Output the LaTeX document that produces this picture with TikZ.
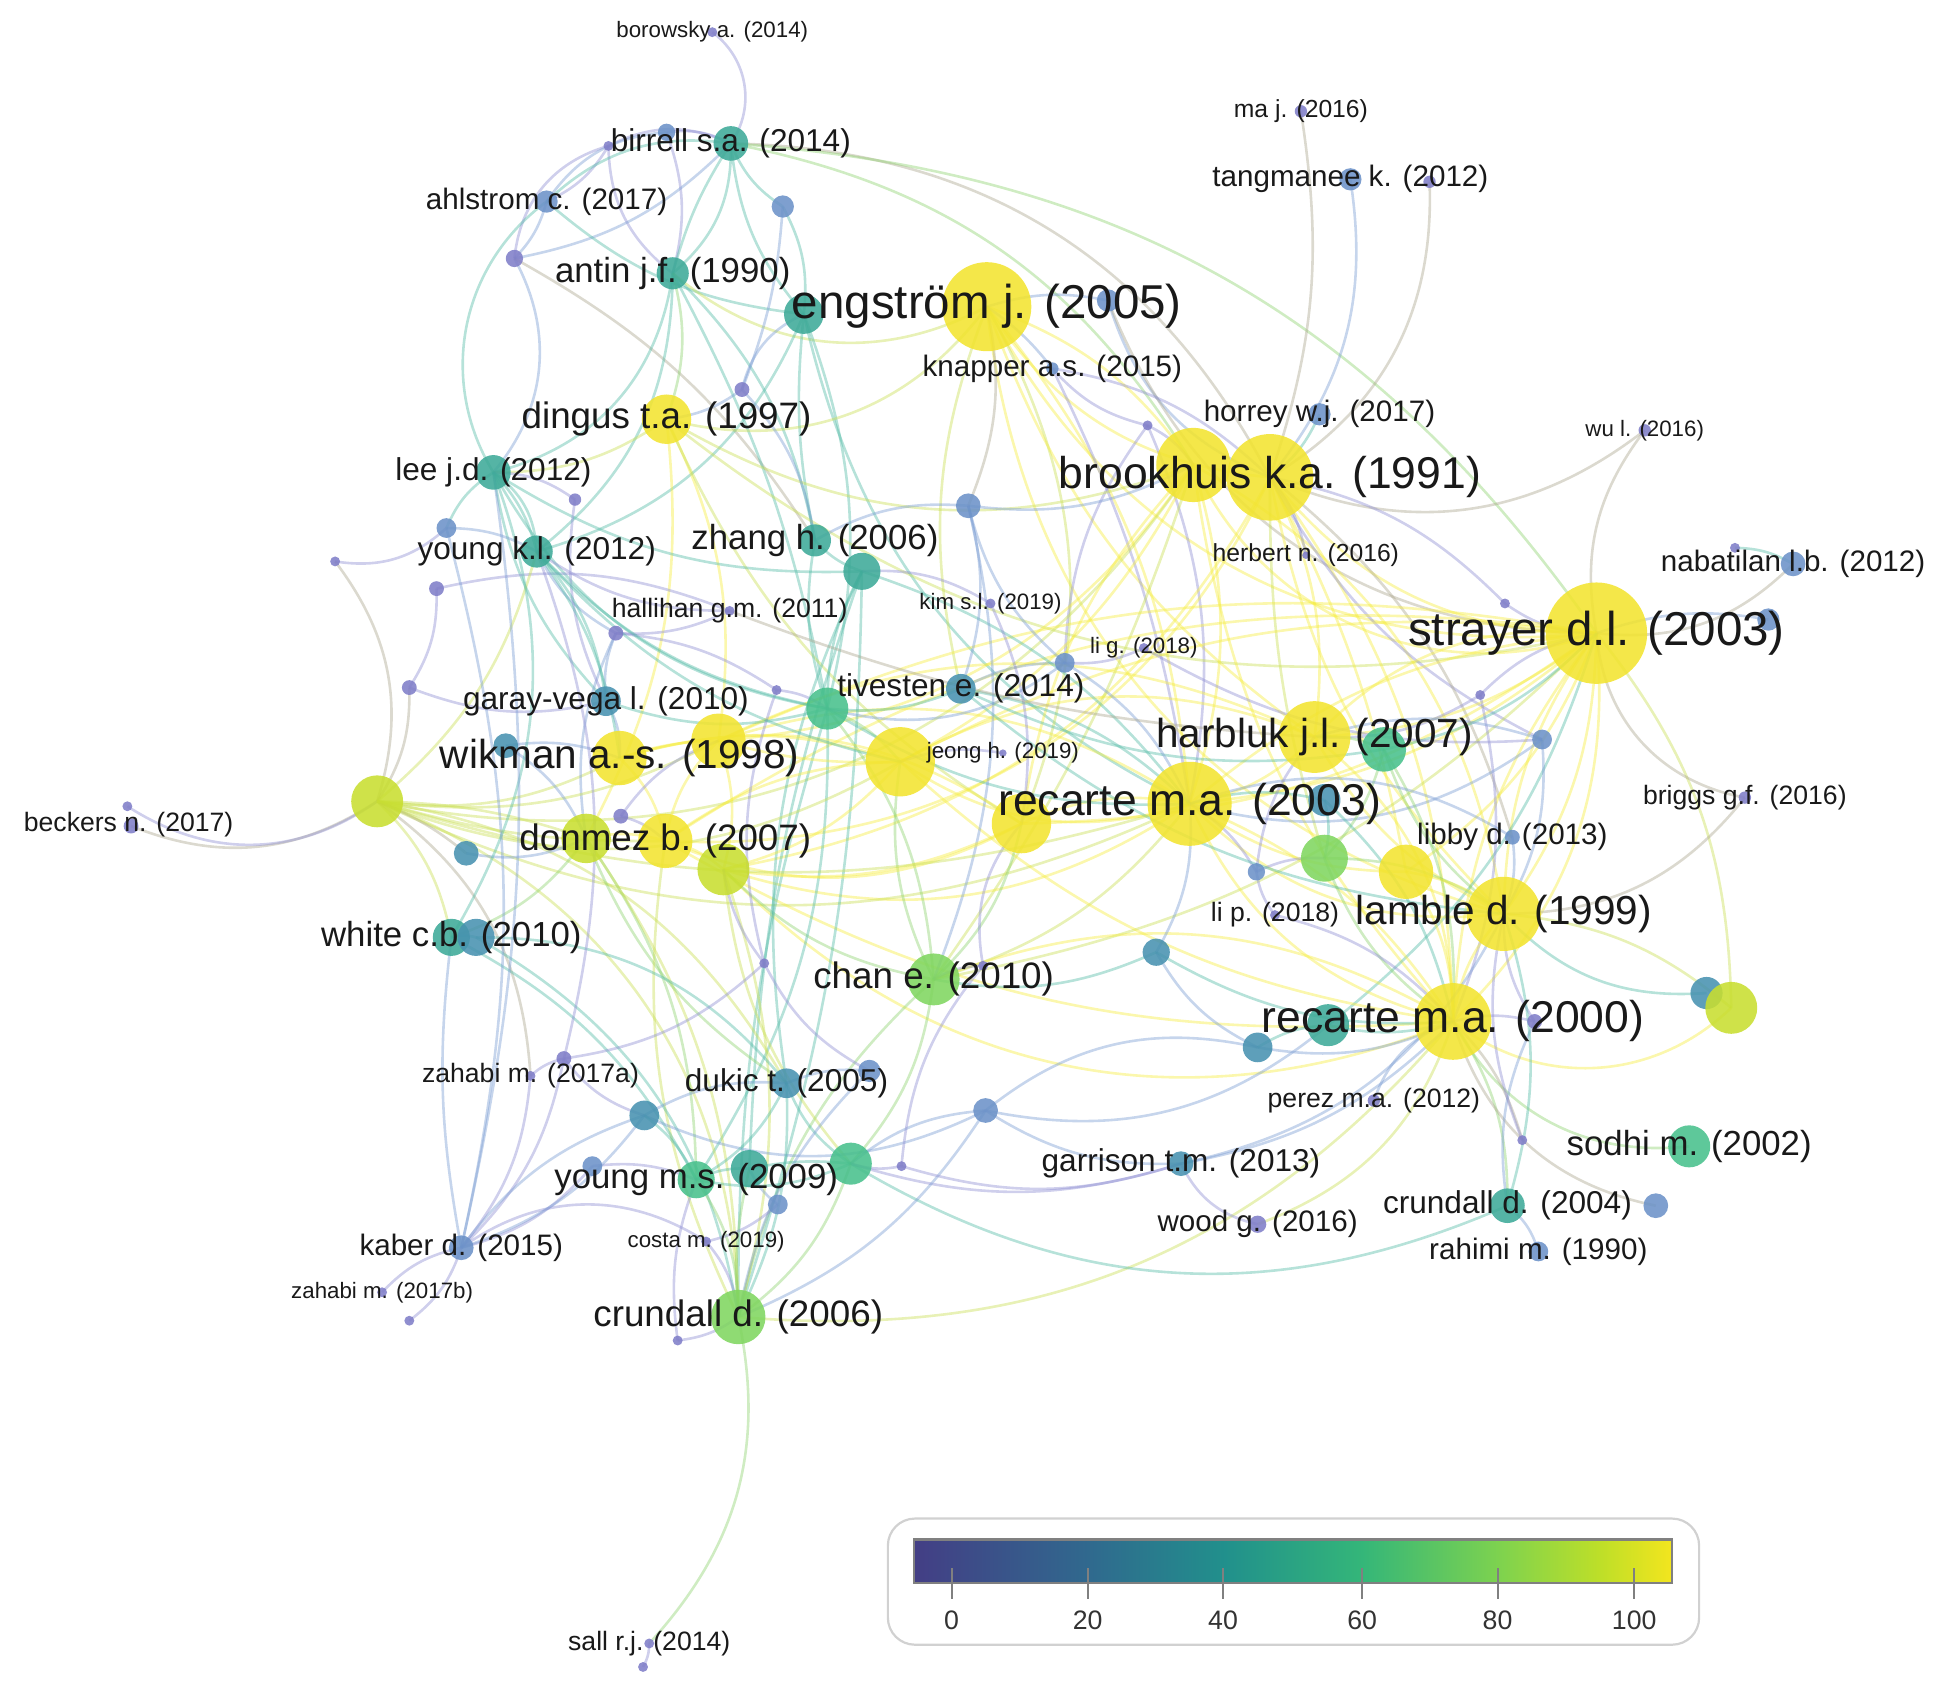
\documentclass[tikz,border=0pt]{standalone}
\usepackage{fontspec}
\setmainfont{Liberation Sans}
\pgfdeclarelayer{edges}
\pgfsetlayers{edges,main}
\definecolor{c0}{RGB}{128,126,200}
\definecolor{c1}{RGB}{108,146,200}
\definecolor{c2}{RGB}{72,146,176}
\definecolor{c3}{RGB}{62,170,152}
\definecolor{c4}{RGB}{72,192,140}
\definecolor{c5}{RGB}{128,214,96}
\definecolor{c6}{RGB}{200,222,48}
\definecolor{c7}{RGB}{242,228,48}
\definecolor{ey}{RGB}{245,236,60}
\definecolor{eyg}{RGB}{200,222,80}
\definecolor{eg}{RGB}{140,210,110}
\definecolor{et}{RGB}{80,185,165}
\definecolor{eb}{RGB}{120,155,210}
\definecolor{ep}{RGB}{140,140,210}
\definecolor{egr}{RGB}{170,165,140}
\definecolor{txt}{RGB}{25,25,25}
\newcommand\szA{\fontsize{47.5pt}{50pt}\selectfont}
\newcommand\szB{\fontsize{44.5pt}{46pt}\selectfont}
\newcommand\szC{\fontsize{40.5pt}{42pt}\selectfont}
\newcommand\szD{\fontsize{36.8pt}{38pt}\selectfont}
\newcommand\szE{\fontsize{34.8pt}{36pt}\selectfont}
\newcommand\szF{\fontsize{31.6pt}{33pt}\selectfont}
\newcommand\szG{\fontsize{29.6pt}{31pt}\selectfont}
\newcommand\szH{\fontsize{26.6pt}{28pt}\selectfont}
\newcommand\szI{\fontsize{24.7pt}{26pt}\selectfont}
\newcommand\szJ{\fontsize{22.3pt}{24pt}\selectfont}
\newcommand\szT{\fontsize{26.7pt}{28pt}\selectfont}
\tikzset{
  nd/.style={circle,inner sep=0pt,draw=none,fill opacity=0.88},
  lab/.style={inner sep=0pt,text=txt,anchor=center},
  ed/.style={line width=2.6pt,draw opacity=0.42},
}
\newcommand\N[5]{\node[nd,minimum size=#4*2.4732pt,fill=#5] (#1) at (#2,#3) {};}
\newcommand\E[4]{\pgfmathsetmacro\bb{ifthenelse(#3==0,14,max(-48,min(48,1.7*#3)))}%
  \draw[ed,draw=#4] (#1.center) to[bend left=\bb] (#2.center);}
\begin{document}
\begin{tikzpicture}[x=1.2366pt,y=-1.2366pt]
\useasboundingbox (0,0) rectangle (1568,1370);
% ---------------- nodes
\N{bor}{576}{26}{4}{c0}
\N{bir}{591}{116}{14}{c3}
\N{birA}{539}{107}{7}{c1}
\N{birB}{492}{118}{4}{c0}
\N{ahl}{442}{163}{9}{c1}
\N{nA}{633}{167}{9}{c1}
\N{nB}{416}{209}{7}{c0}
\N{ant}{544}{221}{13}{c3}
\N{engT}{650}{254}{16}{c3}
\N{eng}{798}{248}{36}{c7}
\N{nEng}{896}{243}{9}{c1}
\N{nC}{600}{315}{6}{c0}
\N{kna}{851}{298}{5}{c1}
\N{din}{539}{339}{20}{c7}
\N{nD}{928}{344}{4}{c0}
\N{hor}{1067}{335}{9}{c1}
\N{brkA}{965}{376}{30}{c7}
\N{brk}{1027}{386}{35}{c7}
\N{lee}{399}{382}{14}{c3}
\N{nE}{465}{404}{5}{c0}
\N{nF}{783}{409}{10}{c1}
\N{nG}{361}{427}{8}{c1}
\N{ykl}{434}{446}{13}{c3}
\N{zha}{659}{437}{13}{c3}
\N{nH}{697}{462}{15}{c3}
\N{nI}{271}{454}{4}{c0}
\N{nJ}{353}{476}{6}{c0}
\N{nK}{498}{512}{6}{c0}
\N{hal}{590}{494}{4}{c0}
\N{kim}{801}{488}{4}{c0}
\N{lig}{925}{524}{4}{c0}
\N{nL}{861}{536}{8}{c1}
\N{her}{1056}{449}{3}{c0}
\N{wul}{1330}{348}{5}{c0}
\N{maj}{1052}{90}{5}{c0}
\N{tan}{1092}{145}{9}{c1}
\N{nM}{1156}{147}{5}{c0}
\N{nab}{1450}{456}{10}{c1}
\N{nN}{1403}{443}{4}{c0}
\N{nO}{1430}{501}{9}{c1}
\N{str}{1291}{512}{41}{c7}
\N{nP}{1217}{488}{4}{c0}
\N{nQ}{1197}{562}{4}{c0}
\N{nR}{1247}{598}{8}{c1}
\N{har}{1063}{596}{29}{c7}
\N{harG}{1119}{606}{18}{c4}
\N{rec3}{962}{650}{34}{c7}
\N{rec3B}{826}{666}{24}{c7}
\N{rec3T}{1071}{647}{13}{c2}
\N{nS}{1071}{694}{19}{c5}
\N{nT}{1137}{705}{22}{c7}
\N{lib}{1223}{677}{6}{c1}
\N{bri}{1411}{645}{5}{c0}
\N{lam}{1216}{739}{30}{c7}
\N{nU}{1016}{705}{7}{c1}
\N{lip}{1031}{740}{4}{c0}
\N{nV}{935}{770}{11}{c2}
\N{nW}{1380}{803}{13}{c2}
\N{nX}{1400}{815}{21}{c6}
\N{rec0}{1175}{826}{31}{c7}
\N{rec0T}{1074}{829}{17}{c3}
\N{rec0P}{1241}{826}{6}{c0}
\N{nY}{1017}{847}{12}{c2}
\N{per}{1111}{890}{5}{c0}
\N{sod}{1366}{927}{17}{c4}
\N{nZ}{1231}{922}{4}{c0}
\N{cr4}{1219}{975}{14}{c3}
\N{nAA}{1339}{975}{10}{c1}
\N{rah}{1244}{1012}{8}{c1}
\N{woo}{1017}{990}{7}{c0}
\N{gar}{955}{941}{10}{c2}
\N{cha}{755}{792}{21}{c5}
\N{nAB}{795}{781}{4}{c0}
\N{nAC}{618}{779}{4}{c0}
\N{tiv}{777}{557}{12}{c2}
\N{tivG}{669}{573}{17}{c4}
\N{jeo}{811}{609}{3}{c0}
\N{jeoY}{728}{616}{28}{c7}
\N{gvl}{490}{567}{12}{c2}
\N{nAD}{628}{558}{4}{c0}
\N{wikA}{501}{613}{22}{c7}
\N{wikB}{581}{599}{22}{c7}
\N{nAE}{409}{603}{10}{c2}
\N{big}{305}{648}{21}{c6}
\N{bec}{106}{668}{6}{c0}
\N{becB}{103}{652}{4}{c0}
\N{donA}{474}{678}{20}{c6}
\N{don}{538}{680}{22}{c7}
\N{donB}{585}{703}{21}{c6}
\N{nAF}{502}{660}{6}{c0}
\N{nAG}{377}{690}{10}{c2}
\N{nAH}{331}{556}{6}{c0}
\N{whi}{365}{758}{15}{c3}
\N{whiB}{385}{758}{15}{c2}
\N{zaa}{429}{870}{4}{c0}
\N{nAI}{456}{856}{6}{c0}
\N{duk}{636}{876}{12}{c2}
\N{nAJ}{703}{866}{9}{c1}
\N{nAK}{521}{902}{12}{c2}
\N{nAL}{797}{898}{10}{c1}
\N{yms}{563}{954}{15}{c4}
\N{ymsB}{606}{945}{15}{c3}
\N{ymsC}{688}{941}{17}{c4}
\N{nAM}{479}{943}{8}{c1}
\N{nAN}{629}{974}{8}{c1}
\N{nAO}{729}{943}{4}{c0}
\N{cos}{571}{1004}{4}{c0}
\N{kab}{373}{1009}{10}{c1}
\N{zab}{309}{1045}{4}{c0}
\N{zabB}{331}{1068}{4}{c0}
\N{cr6}{597}{1065}{22}{c5}
\N{nAP}{548}{1084}{4}{c0}
\N{sal}{525}{1329}{4}{c0}
\N{salB}{520}{1348}{4}{c0}
% ---------------- edges
\begin{pgfonlayer}{edges}
\E{bor}{bir}{26}{ep}
\E{birB}{ahl}{10}{ep}
\E{birB}{bir}{15}{ep}
\E{birB}{nB}{-20}{ep}
\E{birB}{ant}{-15}{ep}
\E{birA}{ant}{10}{ep}
\E{birA}{bir}{10}{ep}
\E{birA}{ahl}{-15}{eb}
\E{bir}{ahl}{-15}{et}
\E{bir}{ant}{-5}{et}
\E{bir}{ant}{15}{et}
\E{bir}{nA}{-10}{et}
\E{bir}{engT}{-10}{et}
\E{bir}{brk}{18}{egr}
\E{bir}{str}{15}{eg}
\E{bir}{brkA}{14}{eg}
\E{bir}{nB}{10}{eb}
\E{ahl}{lee}{-25}{et}
\E{ahl}{nB}{0}{eb}
\E{ahl}{engT}{-10}{et}
\E{nB}{lee}{20}{eb}
\E{nB}{zha}{0}{egr}
\E{ant}{din}{10}{eg}
\E{ant}{zha}{10}{et}
\E{ant}{tivG}{5}{et}
\E{ant}{lee}{20}{et}
\E{ant}{ykl}{15}{et}
\E{ant}{eng}{-20}{eyg}
\E{nA}{engT}{10}{et}
\E{nA}{nC}{5}{eb}
\E{engT}{nC}{-15}{eb}
\E{engT}{zha}{-5}{et}
\E{engT}{tivG}{10}{et}
\E{engT}{ykl}{15}{et}
\E{engT}{rec3}{-15}{et}
\E{eng}{brk}{-15}{ey}
\E{eng}{brkA}{10}{ey}
\E{eng}{str}{-20}{ey}
\E{eng}{rec3}{10}{ey}
\E{eng}{lam}{-20}{ey}
\E{eng}{kna}{5}{eb}
\E{eng}{rec3B}{15}{eyg}
\E{eng}{tiv}{-10}{eyg}
\E{eng}{nF}{10}{egr}
\E{eng}{har}{-10}{ey}
\E{eng}{din}{20}{eyg}
\E{eng}{nEng}{0}{eb}
\E{nEng}{brk}{-15}{eb}
\E{nEng}{str}{-20}{egr}
\E{kna}{brk}{10}{ep}
\E{kna}{rec3}{5}{ep}
\E{kna}{nD}{-10}{ep}
\E{nD}{brkA}{0}{ep}
\E{nD}{rec3}{10}{ep}
\E{nD}{nL}{-10}{ep}
\E{din}{brkA}{-15}{eyg}
\E{din}{wikB}{10}{ey}
\E{din}{donA}{10}{ey}
\E{din}{rec3B}{-10}{eyg}
\E{din}{lee}{10}{eyg}
\E{din}{str}{-15}{eyg}
\E{nC}{zha}{10}{eb}
\E{nC}{din}{0}{eb}
\E{hor}{brk}{0}{et}
\E{maj}{brk}{8}{egr}
\E{tan}{brk}{14}{eb}
\E{nM}{brk}{18}{egr}
\E{wul}{brk}{18}{egr}
\E{wul}{str}{-14}{egr}
\E{brkA}{rec3}{10}{ey}
\E{brk}{str}{-15}{ey}
\E{brkA}{str}{-25}{ey}
\E{brk}{har}{10}{ey}
\E{brk}{lam}{-10}{ey}
\E{brkA}{lam}{15}{ey}
\E{brk}{rec0}{10}{ey}
\E{brkA}{rec0}{-10}{ey}
\E{brkA}{wikB}{15}{ey}
\E{brkA}{jeoY}{10}{ey}
\E{brk}{donB}{15}{ey}
\E{brkA}{big}{20}{eyg}
\E{brk}{nT}{5}{ey}
\E{brk}{her}{0}{ep}
\E{brkA}{cha}{5}{eyg}
\E{brk}{nR}{-10}{ep}
\E{brk}{lib}{10}{egr}
\E{brkA}{nF}{10}{eb}
\E{brkA}{rec3B}{-10}{ey}
\E{brk}{nS}{-5}{eyg}
\E{brk}{don}{20}{ey}
\E{str}{har}{10}{ey}
\E{str}{har}{-15}{ey}
\E{str}{rec3}{10}{ey}
\E{str}{rec3}{-10}{ey}
\E{str}{lam}{10}{ey}
\E{str}{lam}{-10}{ey}
\E{str}{rec0}{-10}{ey}
\E{str}{rec0}{15}{ey}
\E{str}{nT}{10}{ey}
\E{str}{nX}{11}{eyg}
\E{str}{jeoY}{-10}{ey}
\E{str}{cha}{10}{eyg}
\E{str}{bri}{-22}{egr}
\E{str}{nab}{-15}{egr}
\E{str}{nO}{0}{eb}
\E{str}{nP}{10}{ep}
\E{str}{nQ}{-10}{ep}
\E{str}{rec3B}{10}{ey}
\E{str}{wikB}{-10}{ey}
\E{str}{don}{-12}{ey}
\E{str}{harG}{10}{et}
\E{str}{rec0T}{10}{et}
\E{nN}{nab}{0}{et}
\E{nP}{brk}{-10}{ep}
\E{nQ}{har}{10}{ep}
\E{nQ}{rec0}{10}{ep}
\E{nR}{lam}{10}{eb}
\E{nR}{har}{-10}{eb}
\E{nR}{rec3}{15}{eb}
\E{har}{rec3}{10}{ey}
\E{har}{lam}{-10}{ey}
\E{har}{harG}{0}{eg}
\E{harG}{nS}{0}{eg}
\E{harG}{rec0}{10}{eg}
\E{harG}{lam}{-10}{eg}
\E{har}{rec0}{15}{ey}
\E{har}{jeoY}{-15}{ey}
\E{har}{wikB}{-15}{ey}
\E{rec3}{rec3B}{-10}{ey}
\E{rec3}{lam}{-15}{ey}
\E{rec3}{rec0}{10}{ey}
\E{rec3}{rec0}{-15}{ey}
\E{rec3}{jeoY}{15}{ey}
\E{rec3}{wikB}{-15}{ey}
\E{rec3}{donB}{15}{ey}
\E{rec3}{cha}{10}{eyg}
\E{rec3}{nT}{-10}{ey}
\E{rec3}{nU}{0}{ep}
\E{rec3}{rec3T}{0}{et}
\E{rec3}{big}{15}{eyg}
\E{rec3T}{nS}{0}{et}
\E{rec3T}{rec0}{10}{et}
\E{nS}{lam}{10}{eg}
\E{nS}{rec0}{-10}{eg}
\E{nT}{lam}{0}{ey}
\E{nT}{rec0}{10}{ey}
\E{lib}{lam}{0}{eb}
\E{lib}{rec3}{-15}{eb}
\E{bri}{lam}{15}{egr}
\E{lam}{rec0}{-10}{ey}
\E{lam}{nW}{-15}{et}
\E{nX}{rec0}{24}{ey}
\E{nX}{lam}{-10}{eyg}
\E{rec0}{rec0T}{0}{et}
\E{rec0}{rec0P}{0}{ep}
\E{rec0}{sod}{-20}{eg}
\E{rec0}{cr4}{10}{eg}
\E{rec0}{nAA}{-18}{egr}
\E{rec0}{per}{-15}{eb}
\E{rec0}{nZ}{0}{egr}
\E{rec0}{cha}{-15}{ey}
\E{rec0}{jeoY}{10}{ey}
\E{rec0}{don}{10}{ey}
\E{donB}{rec0}{-20}{ey}
\E{cr6}{rec0}{-16}{eyg}
\E{rec0P}{cr4}{-10}{eb}
\E{rec0P}{lam}{10}{ep}
\E{nZ}{lam}{10}{ep}
\E{cr4}{rah}{10}{eb}
\E{cr4}{lam}{-10}{et}
\E{ymsC}{cr4}{-16}{et}
\E{nY}{nV}{10}{eb}
\E{nY}{nAL}{-15}{eb}
\E{nY}{rec0T}{0}{et}
\E{nY}{rec0}{-10}{eb}
\E{gar}{woo}{-15}{ep}
\E{gar}{rec0}{-10}{eb}
\E{gar}{ymsC}{10}{ep}
\E{gar}{lam}{-15}{eb}
\E{woo}{rec0}{-15}{eyg}
\E{nV}{rec3}{-10}{eb}
\E{nV}{cha}{10}{et}
\E{nV}{rec0}{-10}{et}
\E{lip}{nU}{0}{ep}
\E{lip}{rec0}{10}{ep}
\E{nU}{har}{10}{ep}
\E{nU}{nS}{0}{ep}
\E{cha}{jeoY}{10}{eg}
\E{cha}{tivG}{-10}{eg}
\E{cha}{ymsC}{10}{eg}
\E{cha}{cr6}{-10}{eg}
\E{cha}{donB}{10}{eg}
\E{cha}{nAB}{0}{ep}
\E{cha}{rec3B}{-10}{eg}
\E{nAB}{rec3B}{15}{ep}
\E{tiv}{rec3}{10}{et}
\E{tiv}{tivG}{0}{et}
\E{tiv}{nL}{0}{eb}
\E{tiv}{harG}{-10}{et}
\E{tiv}{lam}{-10}{et}
\E{tivG}{jeoY}{0}{eg}
\E{tivG}{zha}{0}{et}
\E{tivG}{nH}{0}{et}
\E{tivG}{gvl}{10}{et}
\E{tivG}{yms}{10}{et}
\E{tivG}{cr6}{-5}{et}
\E{tivG}{rec3}{-10}{et}
\E{tivG}{lee}{15}{et}
\E{nH}{zha}{0}{et}
\E{nH}{lee}{10}{et}
\E{nH}{rec3}{10}{et}
\E{nH}{ymsB}{-5}{et}
\E{nH}{cr6}{5}{et}
\E{nH}{duk}{-10}{et}
\E{nF}{tiv}{10}{eb}
\E{nF}{nL}{-10}{eb}
\E{nF}{cha}{10}{eb}
\E{nF}{zha}{-10}{eb}
\E{kim}{rec3B}{10}{ep}
\E{kim}{nH}{-10}{ep}
\E{lig}{nL}{0}{ep}
\E{lig}{nR}{-10}{ep}
\E{nL}{rec3}{10}{eb}
\E{nL}{tivG}{15}{eb}
\E{jeoY}{wikB}{5}{ey}
\E{jeoY}{donB}{10}{ey}
\E{jeoY}{big}{15}{eyg}
\E{jeoY}{don}{-10}{ey}
\E{jeoY}{jeo}{0}{ep}
\E{jeoY}{wikA}{-10}{ey}
\E{rec3B}{don}{15}{ey}
\E{rec3B}{wikA}{-15}{ey}
\E{rec3B}{donB}{10}{ey}
\E{wikA}{wikB}{5}{ey}
\E{wikA}{big}{10}{eyg}
\E{wikA}{don}{10}{ey}
\E{wikB}{don}{-10}{ey}
\E{wikB}{donB}{10}{ey}
\E{gvl}{wikA}{10}{eb}
\E{gvl}{nK}{0}{eb}
\E{gvl}{lee}{10}{et}
\E{hal}{nK}{0}{ep}
\E{hal}{ykl}{10}{ep}
\E{hal}{nJ}{-10}{ep}
\E{hal}{har}{-5}{egr}
\E{nK}{ykl}{10}{eb}
\E{nK}{nAD}{0}{ep}
\E{nK}{donA}{-10}{eb}
\E{nAD}{tivG}{0}{ep}
\E{nAD}{nAC}{-10}{ep}
\E{lee}{ykl}{0}{et}
\E{lee}{ykl}{15}{et}
\E{lee}{nG}{-10}{et}
\E{lee}{nE}{10}{ep}
\E{nE}{gvl}{-10}{ep}
\E{nG}{nI}{15}{ep}
\E{nG}{ykl}{0}{eb}
\E{ykl}{gvl}{10}{et}
\E{ykl}{jeoY}{-10}{et}
\E{ykl}{big}{10}{eyg}
\E{ykl}{tivG}{-10}{et}
\E{ykl}{wikA}{0}{et}
\E{nI}{big}{16}{egr}
\E{nJ}{nAH}{10}{ep}
\E{nAH}{big}{10}{egr}
\E{nAH}{gvl}{-10}{ep}
\E{big}{bec}{16}{egr}
\E{big}{becB}{20}{ep}
\E{big}{don}{-5}{eyg}
\E{big}{donA}{5}{eyg}
\E{big}{whi}{10}{eyg}
\E{big}{rec3}{-10}{eyg}
\E{big}{nAG}{5}{egr}
\E{big}{cr6}{20}{eyg}
\E{big}{zaa}{15}{egr}
\E{big}{wikB}{-10}{eyg}
\E{big}{duk}{15}{eyg}
\E{nAG}{donA}{-10}{eb}
\E{nAE}{wikA}{0}{eb}
\E{nAE}{donA}{10}{eb}
\E{donA}{don}{0}{ey}
\E{donA}{whi}{10}{eg}
\E{donA}{yms}{10}{eg}
\E{donA}{cr6}{10}{eyg}
\E{donA}{duk}{-10}{eg}
\E{don}{donB}{0}{ey}
\E{don}{cr6}{-10}{eyg}
\E{donB}{cr6}{10}{eyg}
\E{donB}{ymsC}{-10}{eyg}
\E{nAF}{don}{0}{ep}
\E{nAF}{wikB}{10}{ep}
\E{whi}{whiB}{0}{et}
\E{whiB}{duk}{15}{et}
\E{whi}{yms}{10}{et}
\E{whiB}{cr6}{15}{et}
\E{whi}{lee}{-15}{et}
\E{zaa}{nAI}{0}{ep}
\E{nAI}{kab}{10}{ep}
\E{nAI}{nAK}{-10}{ep}
\E{nAI}{ykl}{-10}{ep}
\E{zaa}{kab}{10}{ep}
\E{nAK}{duk}{10}{eb}
\E{nAK}{nAL}{-15}{eb}
\E{nAK}{yms}{0}{et}
\E{nAK}{kab}{-10}{eb}
\E{duk}{nAJ}{0}{eb}
\E{duk}{yms}{10}{et}
\E{duk}{ymsC}{-10}{et}
\E{duk}{cr6}{0}{et}
\E{nAJ}{nAC}{10}{ep}
\E{nAJ}{cr6}{-10}{eb}
\E{nAC}{donB}{0}{ep}
\E{nAC}{nAI}{10}{ep}
\E{nAL}{ymsC}{-10}{eb}
\E{nAL}{cr6}{10}{eb}
\E{nAL}{gar}{-10}{eb}
\E{nAL}{rec0T}{-15}{eb}
\E{yms}{ymsB}{0}{et}
\E{ymsB}{ymsC}{5}{et}
\E{yms}{ymsC}{-10}{et}
\E{yms}{cr6}{10}{eg}
\E{ymsB}{cr6}{-5}{eg}
\E{ymsC}{cr6}{10}{eg}
\E{nAM}{kab}{10}{ep}
\E{nAM}{yms}{0}{ep}
\E{nAN}{cos}{0}{ep}
\E{nAN}{ymsB}{0}{eb}
\E{cos}{cr6}{10}{ep}
\E{kab}{cos}{20}{ep}
\E{nAO}{ymsC}{0}{ep}
\E{nAO}{gar}{-10}{ep}
\E{nAO}{nAB}{10}{ep}
\E{kab}{zab}{-10}{ep}
\E{kab}{zabB}{10}{ep}
\E{kab}{lee}{-6}{eb}
\E{kab}{nG}{-8}{eb}
\E{kab}{whi}{5}{eb}
\E{kab}{nAK}{-10}{eb}
\E{cr6}{nAP}{0}{ep}
\E{cr6}{sal}{16}{eg}
\E{sal}{salB}{0}{ep}
\E{nAP}{yms}{0}{ep}
\end{pgfonlayer}
% ---------------- labels
\node[lab,font=\szJ] (lbor) at (bor) {borowsky a. (2014)};
\node[lab,font=\szF] (lbir) at (bir) {birrell s.a. (2014)};
\node[lab,font=\szG] (lahl) at (ahl) {ahlstrom c. (2017)};
\node[lab,font=\szE] (lant) at (ant) {antin j.f. (1990)};
\node[lab,font=\szA] (leng) at (eng) {engström j. (2005)};
\node[lab,font=\szG] (lkna) at (kna) {knapper a.s. (2015)};
\node[lab,font=\szD] (ldin) at (din) {dingus t.a. (1997)};
\node[lab,font=\szG] (lhor) at (hor) {horrey w.j. (2017)};
\node[lab,font=\szB] (lbrk) at (brk) {brookhuis k.a. (1991)};
\node[lab,font=\szF] (llee) at (lee) {lee j.d. (2012)};
\node[lab,font=\szF] (lykl) at (ykl) {young k.l. (2012)};
\node[lab,font=\szE] (lzha) at (zha) {zhang h. (2006)};
\node[lab,font=\szH] (lhal) at (hal) {hallihan g.m. (2011)};
\node[lab,font=\szJ] (lkim) at (kim) {kim s.l. (2019)};
\node[lab,font=\szJ] (llig) at (lig) {li g. (2018)};
\node[lab,font=\szI] (lher) at (her) {herbert n. (2016)};
\node[lab,font=\szJ] (lwul) at (wul) {wu l. (2016)};
\node[lab,font=\szI] (lmaj) at (maj) {ma j. (2016)};
\node[lab,font=\szG] (ltan) at (tan) {tangmanee k. (2012)};
\node[lab,font=\szG] (lnab) at (nab) {nabatilan l.b. (2012)};
\node[lab,font=\szA] (lstr) at (str) {strayer d.l. (2003)};
\node[lab,font=\szC] (lhar) at (har) {harbluk j.l. (2007)};
\node[lab,font=\szB] (lrec3) at (rec3) {recarte m.a. (2003)};
\node[lab,font=\szG] (llib) at (lib) {libby d. (2013)};
\node[lab,font=\szH] (lbri) at (bri) {briggs g.f. (2016)};
\node[lab,font=\szC] (llam) at (lam) {lamble d. (1999)};
\node[lab,font=\szH] (llip) at (lip) {li p. (2018)};
\node[lab,font=\szB] (lrec0) at (rec0) {recarte m.a. (2000)};
\node[lab,font=\szH] (lper) at (per) {perez m.a. (2012)};
\node[lab,font=\szE] (lsod) at (sod) {sodhi m. (2002)};
\node[lab,font=\szF] (lcr4) at (cr4) {crundall d. (2004)};
\node[lab,font=\szG] (lrah) at (rah) {rahimi m. (1990)};
\node[lab,font=\szG] (lwoo) at (woo) {wood g. (2016)};
\node[lab,font=\szF] (lgar) at (gar) {garrison t.m. (2013)};
\node[lab,font=\szD] (lcha) at (cha) {chan e. (2010)};
\node[lab,font=\szF] (ltiv) at (tiv) {tivesten e. (2014)};
\node[lab,font=\szJ] (ljeo) at (jeo) {jeong h. (2019)};
\node[lab,font=\szF] (lgvl) at (gvl) {garay-vega l. (2010)};
\node[lab,font=\szC] (lwik) at (wikA) {wikman a.-s. (1998)};
\node[lab,font=\szH] (lbec) at (104,667) {beckers n. (2017)};
\node[lab,font=\szD] (ldon) at (don) {donmez b. (2007)};
\node[lab,font=\szE] (lwhi) at (whi) {white c.b. (2010)};
\node[lab,font=\szH] (lzaa) at (zaa) {zahabi m. (2017a)};
\node[lab,font=\szF] (lduk) at (duk) {dukic t. (2005)};
\node[lab,font=\szE] (lyms) at (yms) {young m.s. (2009)};
\node[lab,font=\szJ] (lcos) at (cos) {costa m. (2019)};
\node[lab,font=\szG] (lkab) at (kab) {kaber d. (2015)};
\node[lab,font=\szJ] (lzab) at (zab) {zahabi m. (2017b)};
\node[lab,font=\szD] (lcr6) at (cr6) {crundall d. (2006)};
\node[lab,font=\szH] (lsal) at (sal) {sall r.j. (2014)};
% ---------------- legend
\draw[draw=black!18,line width=2.2pt,rounded corners=27pt] (718,1228) rectangle (1374,1330);
\shade[left color={rgb,255:red,67;green,62;blue,133},right color={rgb,255:red,48;green,105;blue,142}] (739,1245) rectangle (880.5,1280);
\shade[left color={rgb,255:red,48;green,105;blue,142},right color={rgb,255:red,33;green,144;blue,140}] (880,1245) rectangle (990.5,1280);
\shade[left color={rgb,255:red,33;green,144;blue,140},right color={rgb,255:red,52;green,182;blue,121}] (990,1245) rectangle (1101.5,1280);
\shade[left color={rgb,255:red,52;green,182;blue,121},right color={rgb,255:red,125;green,210;blue,79}] (1101,1245) rectangle (1211.5,1280);
\shade[left color={rgb,255:red,125;green,210;blue,79},right color={rgb,255:red,190;green,223;blue,40}] (1211,1245) rectangle (1294.5,1280);
\shade[left color={rgb,255:red,190;green,223;blue,40},right color={rgb,255:red,243;green,229;blue,30}] (1294,1245) rectangle (1352,1280);
\draw[draw=black!50,line width=2.4pt] (739,1245) rectangle (1352,1280);
\foreach \xx/\vv/\nm in {769.5/0/t0,879.5/20/t20,989/40/t40,1101.5/60/t60,1211/80/t80,1321.5/100/t100}{
  \draw[draw=black!50,line width=2pt] (\xx,1268) -- (\xx,1293);
  \node[lab,font=\szT,text=black!80] (\nm) at (\xx,1310) {\vv};
}
\end{tikzpicture}
\end{document}
